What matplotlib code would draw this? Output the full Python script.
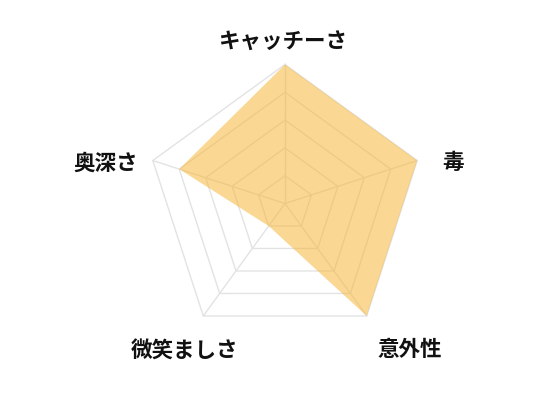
import numpy as np
import matplotlib
matplotlib.use("Agg")
import matplotlib.pyplot as plt

plt.rcParams['font.family'] = ['Noto Sans CJK JP', 'DejaVu Sans']

# 項目と値 (最大5)
labels = ["キャッチーさ", "毒", "意外性", "微笑ましさ", "奥深さ"]
values = [5, 5, 5, 1, 4]
max_val = 5
levels = [1, 2, 3, 4, 5]

# ラベルの位置 (頂点からのずれ, px)
label_offsets = [(-2, 23), (36, -2), (43, -34), (-19, -34), (-47, -3)]

n = len(labels)
ang = np.pi / 2 - 2 * np.pi * np.arange(n) / n
ux, uy = np.cos(ang), np.sin(ang)

fig = plt.figure(figsize=(5.6, 4.0), dpi=100)
ax = fig.add_axes([0, 0, 1, 1])
scale = 139 / max_val  # px per unit
ax.set_xlim(-285 / scale, (560 - 285) / scale)
ax.set_ylim(-196.5 / scale, 203.5 / scale)
ax.axis('off')

grid_c = '#e3e3e3'
for lv in levels:
    px = np.append(ux * lv, ux[0] * lv)
    py = np.append(uy * lv, uy[0] * lv)
    ax.plot(px, py, color=grid_c, lw=1.0, zorder=1)
for i in range(n):
    ax.plot([0, ux[i] * max_val], [0, uy[i] * max_val], color=grid_c, lw=1.0, zorder=1)

vx = ux * np.array(values)
vy = uy * np.array(values)
ax.fill(vx, vy, color=(247/255, 184/255, 60/255, 0.55), lw=0, zorder=2)

for i, lab in enumerate(labels):
    ax.annotate(lab, xy=(ux[i] * max_val, uy[i] * max_val), xytext=label_offsets[i],
                textcoords='offset pixels', ha='center', va='center',
                fontsize=15.5, fontweight='bold', color='#111111')

plt.savefig('out.png', dpi=100)
